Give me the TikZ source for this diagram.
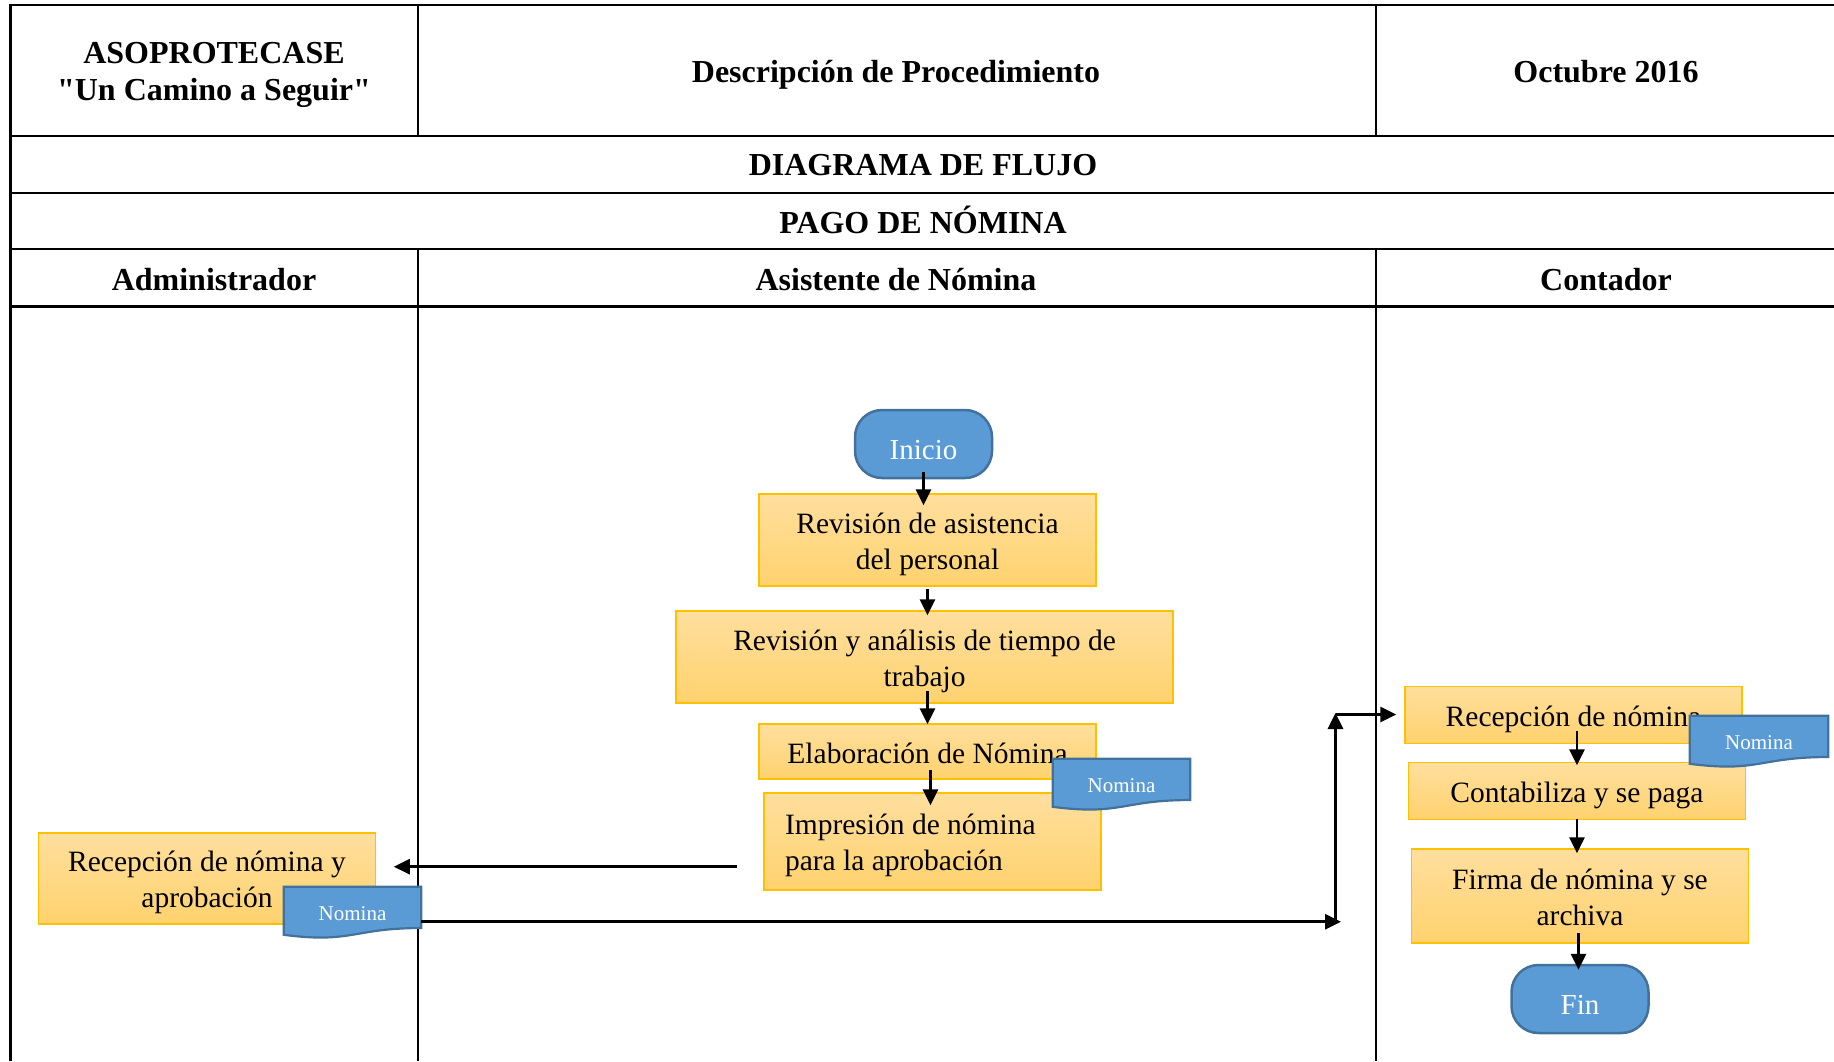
\documentclass[tikz,border=0pt]{standalone}
\usepackage{fontspec}
\setmainfont{Liberation Serif}
\newfontfamily\plainquotes{Liberation Serif}
\usetikzlibrary{arrows.meta,calc}
\definecolor{boxtop}{HTML}{FFDF9E}
\definecolor{boxbot}{HTML}{FFD26E}
\definecolor{boxline}{HTML}{FFC000}
\definecolor{bluefill}{HTML}{5B9BD5}
\definecolor{blueline}{HTML}{41719C}
\newcommand{\nominadoc}[4]{%
  \node[docarea, minimum width=#4] (#1) at (#2,#3) {};
  \path[docpath] (#1.north west) -- (#1.north east) -- ($(#1.north east)!0.802!(#1.south east)$) .. controls ($(#1.north)!0.802!(#1.south)$) and ($(#1.north)!1.107!(#1.south)$) .. ($(#1.north west)!0.934!(#1.south west)$) -- cycle;
  \node[doctext] (#1-t) at ($(#1.north)!0.52!(#1.south)$) {Nomina};
}
\begin{document}
\begin{tikzpicture}[x=1pt,y=-1pt,
  grid/.style={line width=2.2pt, black},
  head/.style={font=\fontsize{32}{37.5}\selectfont\bfseries, align=center, inner sep=0},
  procbox/.style={draw=boxline, line width=1.5pt, top color=boxtop, bottom color=boxbot, inner sep=0, align=flush center, text width=#1, font=\fontsize{29.5}{36}\selectfont,
    execute at begin node={\rule{0pt}{29pt}}, execute at end node={\rule[-6pt]{0pt}{6pt}}},
  term/.style={draw=blueline, line width=2.5pt, fill=bluefill, rounded corners=27pt, minimum width=137pt, minimum height=68pt, text=white, font=\fontsize{29}{34}\selectfont, inner sep=0, text height=31pt, text depth=0pt},
  docarea/.style={minimum height=51pt, inner sep=0},
  docpath/.style={draw=blueline, line width=2.2pt, fill=bluefill},
  doctext/.style={text=white, font=\fontsize{21}{25}\selectfont, inner sep=0},
  arr/.style={line width=2.8pt, -{Triangle[length=16pt,width=15pt]}},
]
\useasboundingbox (0,0) rectangle (1834,1061);
% table grid
\draw[grid] (10.5,1061) -- (10.5,5) -- (1834,5);
\draw[grid] (10.5,135.7) -- (1834,135.7);
\draw[grid] (10.5,193) -- (1834,193);
\draw[grid] (10.5,249) -- (1834,249);
\draw[grid] (10.5,306.5) -- (1834,306.5);
\draw[grid] (417.6,5) -- (417.6,135.7);
\draw[grid] (1375.6,5) -- (1375.6,135.7);
\draw[grid] (417.6,249) -- (417.6,1061);
\draw[grid] (1375.6,249) -- (1375.6,1061);
% headers
\node[head] (h1) at (214,75) {ASOPROTECASE\\{\plainquotes\bfseries "Un Camino a Seguir"}};
\node[head] (h2) at (896,74.7) {Descripción de Procedimiento};
\node[head] (h3) at (1606,71.2) {Octubre 2016};
\node[head] (h4) at (923,165.2) {DIAGRAMA DE FLUJO};
\node[head] (h5) at (923,219.8) {PAGO DE NÓMINA};
\node[head] (l1) at (214,279.2) {Administrador};
\node[head] (l2) at (896,279.2) {Asistente de Nómina};
\node[head] (l3) at (1606,279.2) {Contador};
% flow nodes
\node[term] (inicio) at (923.5,444) {Inicio};
\node[procbox=337pt, minimum height=92pt] (b1) at (927.5,540) {Revisión de asistencia\\del personal};
\node[procbox=497pt, minimum height=92pt] (b2) at (924.6,657) {Revisión y análisis de tiempo de\\trabajo};
\node[procbox=337pt, minimum height=55pt] (b3) at (927.5,751.5) {Elaboración de Nómina};
\node[procbox=295pt, inner xsep=21pt, align=flush left, minimum height=97pt] (b4) at (932.5,841.5) {Impresión de nómina\\para la aprobación};
\nominadoc{d1}{1121.5}{784.5}{137pt}
\node[procbox=337pt, minimum height=91pt] (adm) at (207,878.5) {Recepción de nómina y\\aprobación};
\nominadoc{d2}{352.5}{912.5}{137pt}
\node[procbox=337pt, minimum height=57pt] (rec) at (1573.5,715) {Recepción de nómina};
\node[procbox=337pt, minimum height=57pt] (cont) at (1577,791) {Contabiliza y se paga};
\node[procbox=337pt, minimum height=94pt] (firma) at (1580,896) {Firma de nómina y se\\archiva};
\nominadoc{d3}{1759}{741.5}{138pt}
\node[term] (fin) at (1580,999) {Fin};
% connectors
\draw[arr, shorten <=-7pt, shorten >=-12pt] (inicio.south) -- (inicio.south |- b1.north);
\draw[arr, shorten <=2pt, shorten >=-5pt] (b1.south) -- (b1.south |- b2.north);
\draw[arr, shorten <=-13pt, shorten >=-1pt] (b3.north |- b2.south) -- (b3.north);
\draw[arr, shorten <=-10pt, shorten >=-13pt] ([xshift=3pt]b3.south) -- ([xshift=3pt]b3.south |- b4.north);
\draw[arr, shorten <=-13pt, shorten >=-3.5pt] (cont.north |- rec.south) -- (cont.north);
\draw[arr, shorten <=-1pt, shorten >=-5pt] (cont.south) -- (cont.south |- firma.north);
\draw[arr, shorten <=-11pt, shorten >=-6pt] ([xshift=-1.5pt]firma.south) -- ([xshift=-1.5pt]firma.south |- fin.north);
\draw[arr] ($(b4.west)+(-26,25.2)$) -- ($(adm.east)+(17.5,-11.8)$);
\coordinate (c1tip) at (1341,921.7);
\coordinate (c1) at (1335.5,921.7);
\coordinate (c2) at (1335.5,713);
\draw[arr] ($(d2.east)+(0,9.2)$) -- (c1tip);
\draw[arr] (c1) -- (c2);
\draw[arr, shorten >=8pt] ($(c2)+(0,1.5)$) -- ($(rec.west)+(0,-0.5)$);
\end{tikzpicture}
\end{document}
